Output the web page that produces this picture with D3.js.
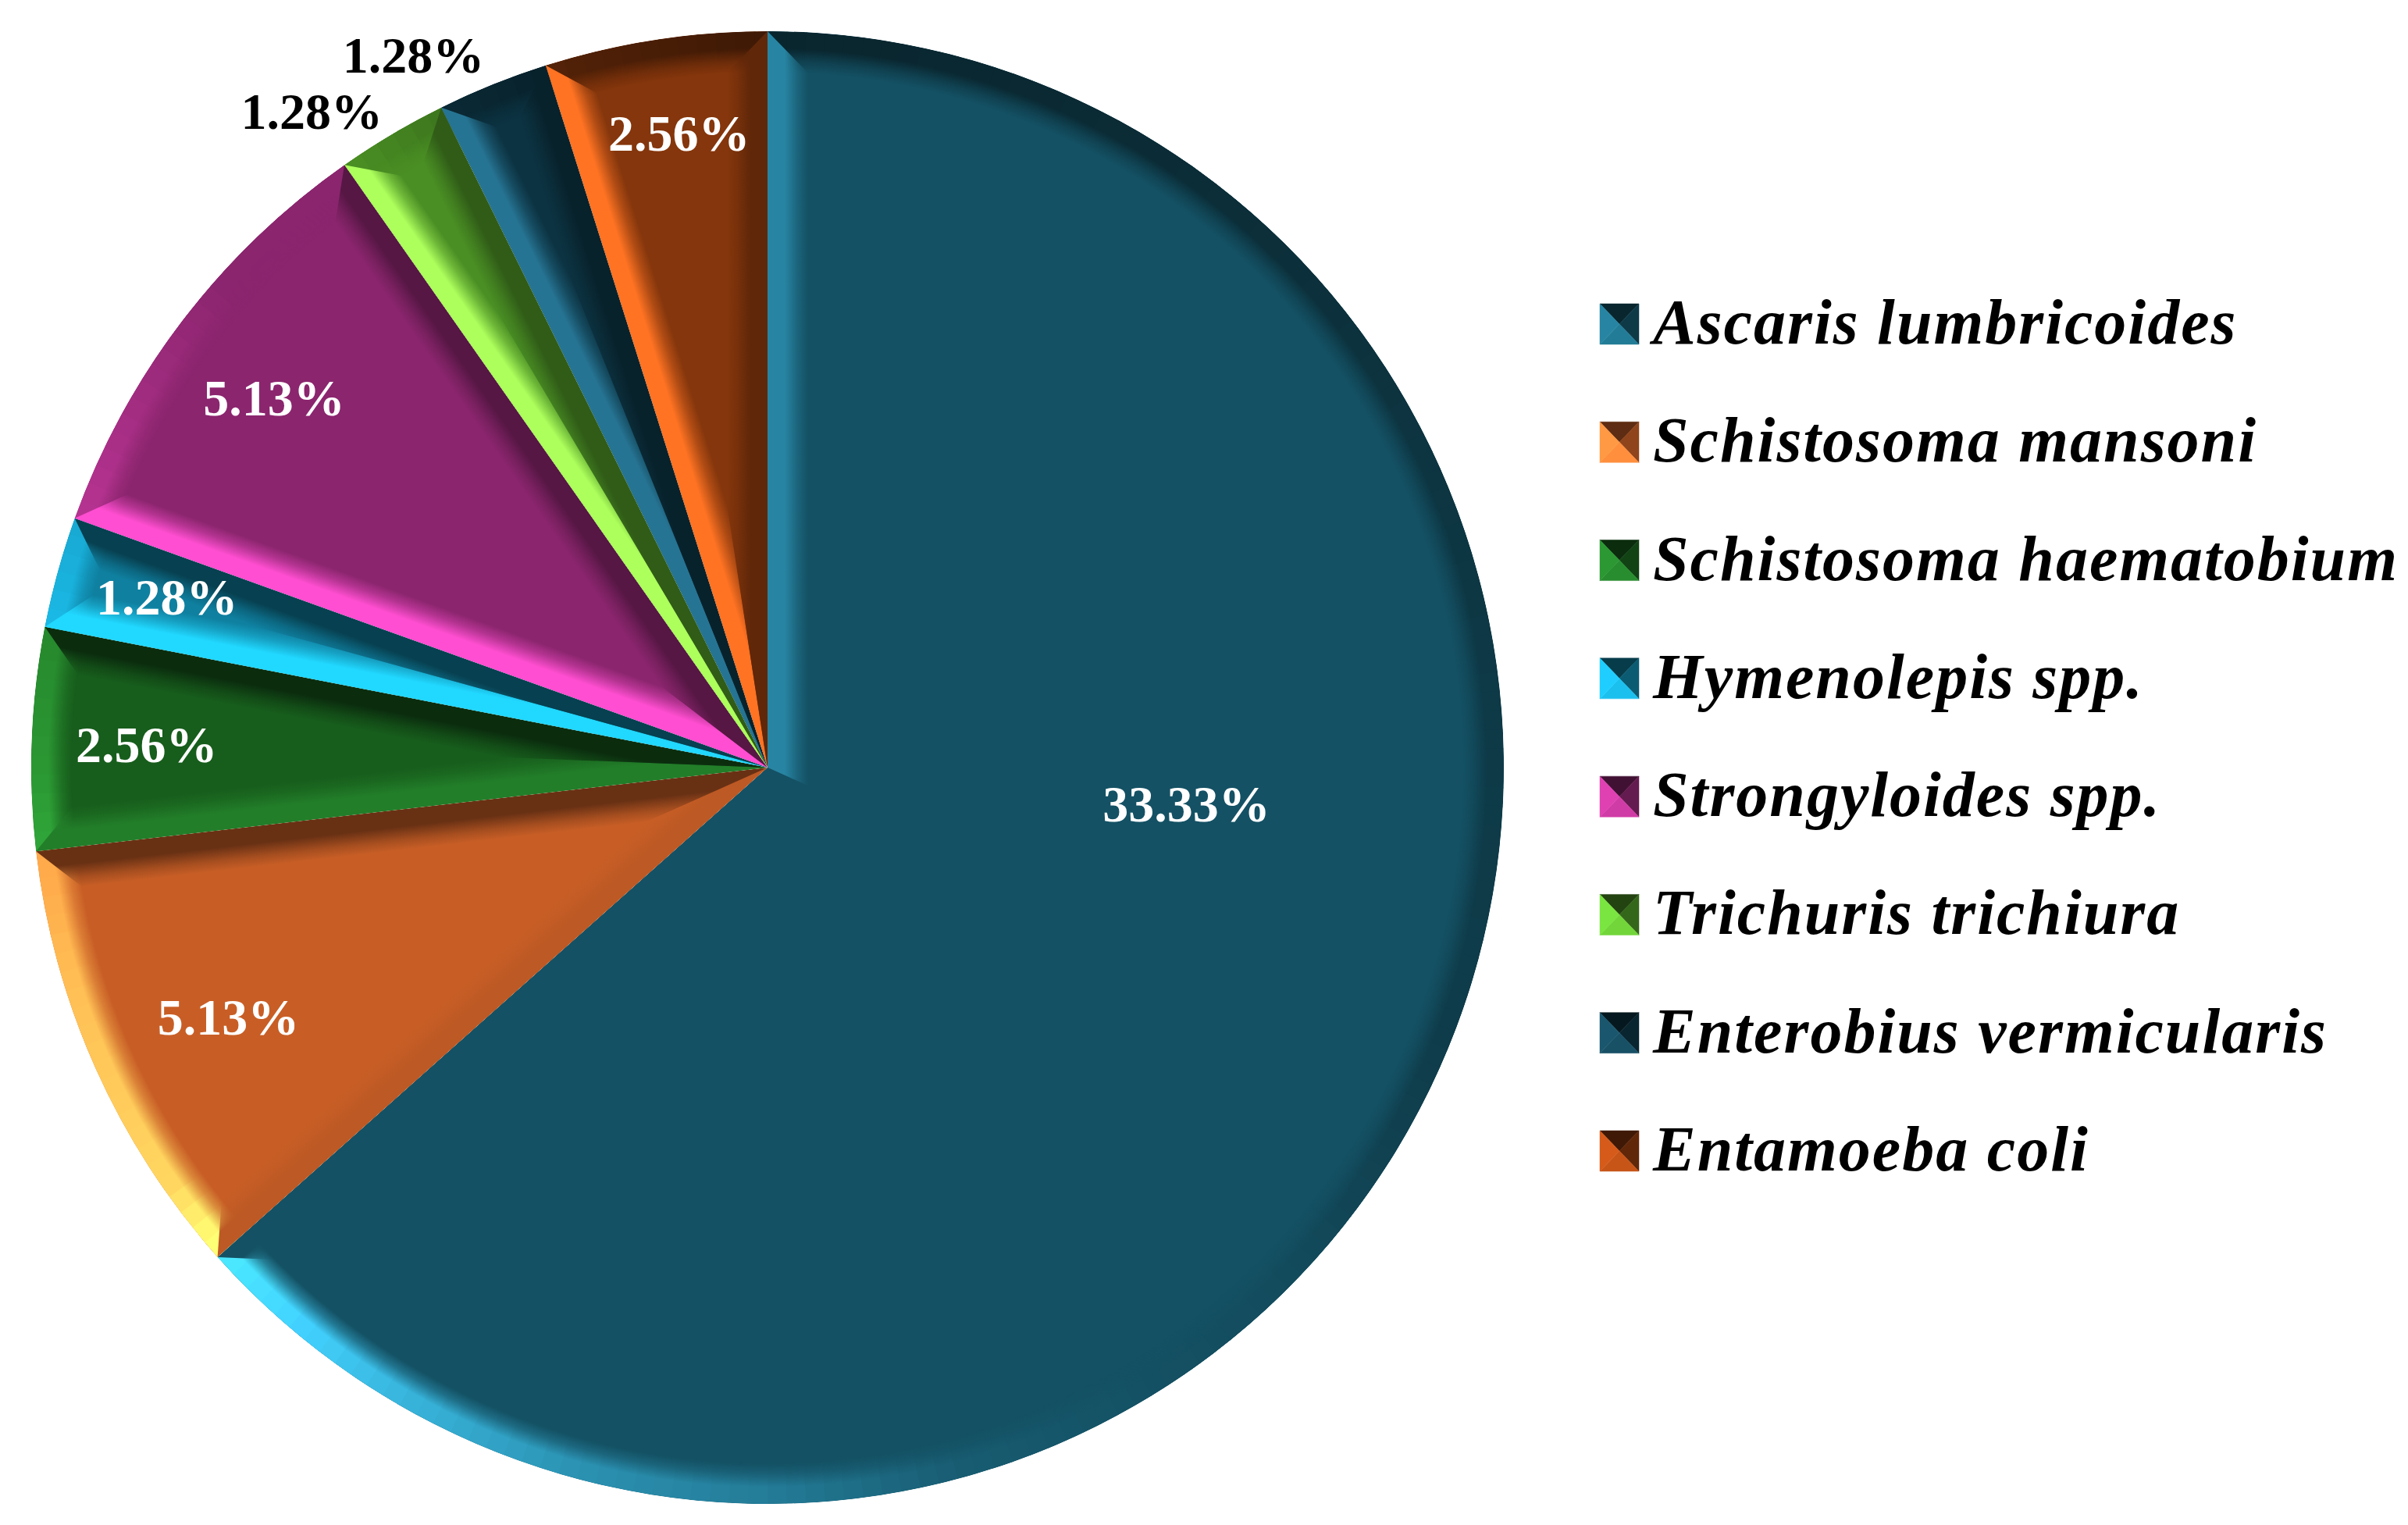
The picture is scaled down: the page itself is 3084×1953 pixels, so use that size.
<!DOCTYPE html>
<html>
<head>
    <meta charset="utf-8" />
    <script src="https://d3js.org/d3.v7.min.js"></script>
    <style>
        html, body { margin: 0; padding: 0; background: #fff; }
    </style>
</head>
<body>
</body>
<script>
    var species = ["Ascaris lumbricoides", "Schistosoma mansoni", "Schistosoma haematobium", "Hymenolepis spp.",
                   "Strongyloides spp.", "Trichuris trichiura", "Enterobius vermicularis", "Entamoeba coli"]
    var percents = [33.33, 5.13, 2.56, 1.28, 5.13, 1.28, 1.28, 2.56]
    var baseColors = ["#145164", "#c85e26", "#175d1c", "#0f80a0", "#8b256e", "#4a8f24", "#0c3342", "#85360c"]

    // where the value labels sit: fraction of the radius, and turn away from the slice middle (degrees)
    var labelRadius = [0.569, 0.809, 0.846, 0.85, 0.839, 1.086, 1.082, 0.87]
    var labelTurn = [-19.2, -0.7, -0.1, 0.4, -0.6, -4.2, -4.6, 0.7]
    var labelColors = ["#fff", "#fff", "#fff", "#fff", "#fff", "#000", "#000", "#fff"]

    var width = 3084, height = 1953
    var cx = 983, cy = 983, R = 943
    var bevel = 52

    // brightness of a bevel facet from the direction it faces (degrees clockwise from up), light comes from lower left
    var facetLight = d3.scaleLinear()
        .domain([0, 20, 55, 90, 115, 135, 150, 165, 180, 195, 210, 228, 235, 252, 270, 300, 312, 325, 345, 360])
        .range([0.47, 0.5, 0.62, 0.72, 0.75, 0.93, 1, 1.12, 1.45, 1.68, 2.05, 2.6, 2.12, 1.9, 1.55, 1.15, 1, 1, 0.6, 0.47])

    function facetColor(base, facing) {
        var m = facetLight(((facing % 360) + 360) % 360)
        var c = d3.rgb(base)
        var add = m > 1 ? (m - 1) * 14 : 0
        return d3.rgb(Math.min(255, c.r * m + add), Math.min(255, c.g * m + add), Math.min(255, c.b * m + add)).formatHex()
    }

    var rad = Math.PI / 180

    var svg = d3.select("body").append("svg")
        .attr("width", width)
        .attr("height", height)
        .style("display", "block")

    var defs = svg.append("defs")

    // outer rim fades out towards the middle of the pie
    var rimGrad = defs.append("radialGradient")
        .attr("id", "rimFade")
        .attr("gradientUnits", "userSpaceOnUse")
        .attr("cx", 0).attr("cy", 0).attr("r", R)
    rimGrad.selectAll("stop")
        .data([[(R - bevel) / R, "#000"], [(R - bevel * 0.75) / R, "#555"], [(R - bevel * 0.42) / R, "#fff"], [1, "#fff"]])
        .enter().append("stop")
        .attr("offset", function (d) { return d[0] })
        .attr("stop-color", function (d) { return d[1] })
    defs.append("mask")
        .attr("id", "rimMask")
        .attr("maskUnits", "userSpaceOnUse")
        .attr("x", -R).attr("y", -R).attr("width", 2 * R).attr("height", 2 * R)
        .append("rect")
        .attr("x", -R).attr("y", -R).attr("width", 2 * R).attr("height", 2 * R)
        .attr("fill", "url(#rimFade)")

    var pie = d3.pie().sort(null).startAngle(0).endAngle(2 * Math.PI)
    var slices = pie(percents)

    var sliceArc = d3.arc().innerRadius(0).outerRadius(R)
    var rimArc = d3.arc().innerRadius(R - bevel).outerRadius(R)

    var chart = svg.append("g").attr("transform", "translate(" + cx + "," + cy + ")")

    var sliceG = chart.selectAll("g.slice")
        .data(slices)
        .enter().append("g")
        .attr("class", "slice")

    sliceG.append("clipPath")
        .attr("id", function (d, i) { return "clip" + i })
        .append("path")
        .attr("d", sliceArc)

    var inner = sliceG.append("g")
        .attr("clip-path", function (d, i) { return "url(#clip" + i + ")" })

    inner.append("path")
        .attr("d", sliceArc)
        .attr("fill", function (d, i) { return baseColors[i] })

    // outer rim: short pieces of arc, each lit by the way it faces
    inner.append("g")
        .attr("mask", "url(#rimMask)")
        .each(function (d, i) {
            var step = 1.5 * rad
            var pieces = d3.range(d.startAngle, d.endAngle, step).map(function (a) {
                return { startAngle: a, endAngle: Math.min(a + step + 0.002, d.endAngle) }
            })
            d3.select(this).selectAll("path")
                .data(pieces)
                .enter().append("path")
                .attr("d", rimArc)
                .attr("fill", function (p) { return facetColor(baseColors[i], (p.startAngle + p.endAngle) / 2 / rad) })
        })

    // the two straight sides, mitred against the rim and against each other
    function sideBevel(d, i, which) {
        var edge = which === "start" ? d.startAngle : d.endAngle
        var sign = which === "start" ? 1 : -1
        var half = (d.endAngle - d.startAngle) / 2
        var mid = (d.startAngle + d.endAngle) / 2
        var outer = d3.pointRadial(edge, R)
        var mitre = d3.pointRadial(edge + sign * Math.asin(bevel / (R - bevel)), R - bevel)
        var apex = d3.pointRadial(mid, bevel / Math.sin(half))
        var inward = d3.pointRadial(edge + sign * Math.PI / 2, bevel)
        var id = "side" + i + which
        var color = facetColor(baseColors[i], edge / rad - sign * 90)

        var grad = defs.append("linearGradient")
            .attr("id", id)
            .attr("gradientUnits", "userSpaceOnUse")
            .attr("x1", 0).attr("y1", 0)
            .attr("x2", inward[0]).attr("y2", inward[1])
        grad.selectAll("stop")
            .data([[0, 1], [0.42, 1], [0.75, 0.35], [1, 0]])
            .enter().append("stop")
            .attr("offset", function (s) { return s[0] })
            .attr("stop-color", color)
            .attr("stop-opacity", function (s) { return s[1] })

        return { id: id, points: [[0, 0], outer, mitre, apex] }
    }

    inner.each(function (d, i) {
        var g = d3.select(this)
        ;["start", "end"].forEach(function (which) {
            var s = sideBevel(d, i, which)
            g.append("path")
                .attr("d", d3.line()(s.points) + "Z")
                .attr("fill", "url(#" + s.id + ")")
        })
    })

    // value labels
    chart.selectAll("text.value")
        .data(slices)
        .enter().append("text")
        .attr("class", "value")
        .attr("transform", function (d, i) {
            var mid = (d.startAngle + d.endAngle) / 2 + labelTurn[i] * rad
            var p = d3.pointRadial(mid, labelRadius[i] * R)
            return "translate(" + (p[0] + 2) + "," + p[1] + ")"
        })
        .attr("text-anchor", "middle")
        .attr("dy", "0.34em")
        .style("font-family", "'Liberation Serif'")
        .style("font-weight", "bold")
        .style("font-size", "66px")
        .attr("fill", function (d, i) { return labelColors[i] })
        .text(function (d, i) { return percents[i].toFixed(2) + "%" })

    // legend
    var legendY = d3.scalePoint().domain(species).range([415, 1474])
    var keyW = 50, keyH = 52
    var keyFacets = [
        { facing: 0, pts: [[0, 0], [keyW, 0], [keyW * 0.5, keyH * 0.5]] },
        { facing: 90, pts: [[keyW, 0], [keyW, keyH], [keyW * 0.5, keyH * 0.5]] },
        { facing: 180, pts: [[keyW, keyH], [0, keyH], [keyW * 0.5, keyH * 0.5]] },
        { facing: 270, pts: [[0, keyH], [0, 0], [keyW * 0.5, keyH * 0.5]] }
    ]

    var legend = svg.selectAll("g.legend")
        .data(species)
        .enter().append("g")
        .attr("class", "legend")
        .attr("transform", function (d) { return "translate(2049," + (legendY(d) - keyH / 2) + ")" })

    legend.each(function (d, i) {
        d3.select(this).selectAll("path")
            .data(keyFacets)
            .enter().append("path")
            .attr("d", function (f) { return d3.line()(f.pts) + "Z" })
            .attr("fill", function (f) { return facetColor(baseColors[i], f.facing) })
            .attr("stroke", function (f) { return facetColor(baseColors[i], f.facing) })
            .attr("stroke-width", 0.5)
    })

    legend.append("text")
        .attr("x", 68)
        .attr("y", keyH - 1)
        .style("font-family", "'Liberation Serif'")
        .style("font-style", "italic")
        .style("font-weight", "bold")
        .style("font-size", "82px")
        .style("letter-spacing", "2px")
        .attr("fill", "#000")
        .text(function (d) { return d })
</script>
</html>
